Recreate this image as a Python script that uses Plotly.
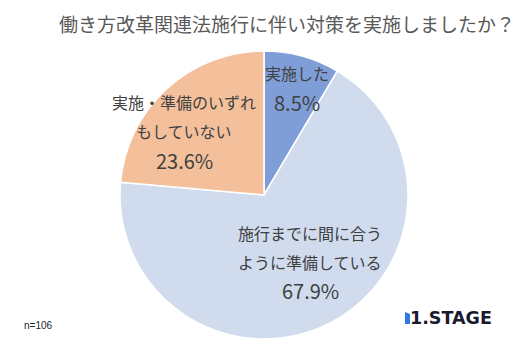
import plotly.graph_objects as go

W, H = 529, 353

categories = ["実施した", "施行までに間に合うように準備している", "実施・準備のいずれもしていない"]
values = [8.5, 67.9, 23.6]
colors = ["#7F9ED8", "#D0DCEE", "#F4C09B"]
label_lines = [["実施した"], ["施行までに間に合う", "ように準備している"], ["実施・準備のいずれ", "もしていない"]]
title = "働き方改革関連法施行に伴い対策を実施しましたか？"
note = "n=106"

def px(x):
    return x / W

def py(y):
    return 1 - y / H

fig = go.Figure(go.Pie(
    labels=categories,
    values=values,
    sort=False,
    direction="clockwise",
    rotation=0,
    marker=dict(colors=colors, line=dict(color="white", width=1.5)),
    textinfo="none",
    hoverinfo="label+percent",
    showlegend=False,
    domain=dict(x=[px(120), px(408)], y=[py(339), py(51)]),
))

font_jp = "Noto Sans CJK JP"
txt_col = "#404040"

placements = [
    (297, [73], 102),
    (310, [233, 262], 290),
    (184, [102, 131], 160),
]
anns = []
for (cx, ys, yp), lines, v in zip(placements, label_lines, values):
    for line, y in zip(lines, ys):
        anns.append(dict(x=px(cx), y=py(y), xref="paper", yref="paper", text=line,
                         showarrow=False, font=dict(family=font_jp, size=16, color=txt_col),
                         xanchor="center", yanchor="middle"))
    anns.append(dict(x=px(cx), y=py(yp), xref="paper", yref="paper", text=f"{v:.1f}%",
                     showarrow=False, font=dict(family=font_jp, size=20, color=txt_col),
                     xanchor="center", yanchor="middle"))

anns.append(dict(x=px(287), y=py(23), xref="paper", yref="paper", text=title, showarrow=False,
                 font=dict(family=font_jp, size=19, color="#595959"), xanchor="center", yanchor="middle"))
anns.append(dict(x=px(22), y=py(325), xref="paper", yref="paper", text=note, showarrow=False,
                 font=dict(family="Liberation Sans", size=10, color="#222222"), xanchor="left", yanchor="middle"))
anns.append(dict(x=px(408), y=py(318), xref="paper", yref="paper", text="<b>1.STAGE</b>", showarrow=False,
                 font=dict(family="DejaVu Sans", size=17.5, color="#1A1A2E"), xanchor="left", yanchor="middle"))

shapes = [dict(type="path", xref="paper", yref="paper",
               path=f"M {px(405)},{py(324)} L {px(405)},{py(312)} L {px(410)},{py(314)} L {px(410)},{py(324)} Z",
               fillcolor="#2E7CE0", line=dict(width=0))]

fig.update_layout(
    width=W, height=H,
    margin=dict(l=0, r=0, t=0, b=0),
    paper_bgcolor="white",
    plot_bgcolor="white",
    annotations=anns,
    shapes=shapes,
)

fig.write_html("out.html")
